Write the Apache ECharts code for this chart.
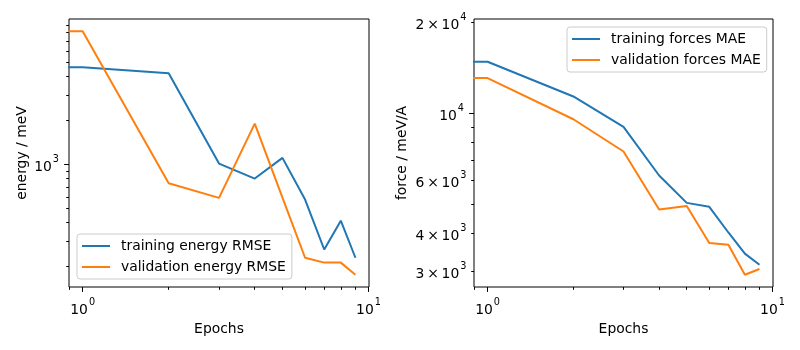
<!DOCTYPE html>
<html>
<head>
<meta charset="utf-8">
<script src="https://cdn.jsdelivr.net/npm/echarts@6/dist/echarts.min.js"></script>
<style>
  html, body { margin: 0; padding: 0; background: #fff; }
  #chart { width: 800px; height: 350px; }
</style>
</head>
<body>
<div id="chart"></div>
<script>
  // data
  const epochs = [0, 1, 2, 3, 4, 5, 6, 7, 8, 9];
  const trainEnergy = [5000, 4640, 4220, 1016, 802, 1111, 576, 262, 413, 230];
  const validEnergy = [7800, 8190, 745, 591, 1909, 594, 230, 213, 213, 176];
  const trainForces = [18700, 14800, 11360, 9010, 6220, 5050, 4900, 4030, 3430, 3150];
  const validForces = [16000, 13070, 9550, 7470, 4800, 4930, 3720, 3670, 2920, 3050];

  // tick positions
  const xMajor = [1, 10];
  const xMinor = [0.9, 2, 3, 4, 5, 6, 7, 8, 9];
  const energyMajor = [1000];
  const energyMinor = [200, 300, 400, 500, 600, 700, 800, 900, 2000, 3000, 4000, 5000, 6000, 7000, 8000, 9000];
  const forceMajor = [10000];
  const forceMinor = [3000, 4000, 5000, 6000, 7000, 8000, 9000, 20000];
  const forceMinorLabels = [3000, 4000, 6000, 20000];

  const blue = '#1f77b4';
  const orange = '#ff7f0e';
  const font = 'DejaVu Sans';
  const fs = 13.9;

  // log scale like matplotlib: epoch 0 is clipped to a tiny positive value
  function pts(ys) {
    return epochs.map((e, i) => [e > 0 ? e : 1e-300, ys[i]]);
  }

  function sciLabel(v) {
    const e = Math.floor(Math.log10(v) + 1e-9);
    const m = Math.round(v / Math.pow(10, e));
    const head = m === 1 ? '10' : m + '\u2009\u00d7\u200910';
    return '{b|' + head + '}{s|' + e + '}';
  }

  const rich = {
    b: { fontFamily: font, fontSize: fs, color: '#000', lineHeight: 20, verticalAlign: 'bottom' },
    s: { fontFamily: font, fontSize: 9.7, color: '#000', lineHeight: 20, verticalAlign: 'top', padding: [0, 0, 0, 1] }
  };

  function axis(grid, min, max, ticks, labels, len, margin, extra) {
    return Object.assign({
      type: 'log',
      logBase: 10,
      gridIndex: grid,
      min: min,
      max: max,
      axisLine: { show: false },
      splitLine: { show: false },
      axisTick: { show: true, customValues: ticks, length: len, lineStyle: { color: '#000', width: 1 } },
      axisLabel: labels
        ? { show: true, customValues: labels, margin: margin, formatter: sciLabel, rich: rich }
        : { show: false }
    }, extra || {});
  }

  const nameStyle = { fontFamily: font, fontSize: fs, color: '#000' };
  const xName = { name: 'Epochs', nameLocation: 'middle', nameGap: 32, nameTextStyle: nameStyle };

  let myChart = echarts.init(document.getElementById('chart'), null, { renderer: 'canvas' });

  myChart.setOption({
    animation: false,
    backgroundColor: '#fff',
    textStyle: { fontFamily: font },
    grid: [
      { left: 69, top: 19, width: 300, height: 268, show: true, borderColor: '#000', borderWidth: 1, backgroundColor: 'transparent' },
      { left: 474, top: 19, width: 299, height: 268, show: true, borderColor: '#000', borderWidth: 1, backgroundColor: 'transparent' }
    ],
    xAxis: [
      axis(0, 0.896, 10.04, xMajor, xMajor, 4.9, 10, Object.assign({ position: 'bottom' }, xName)),
      axis(0, 0.896, 10.04, xMinor, null, 2.8, 8, { position: 'bottom' }),
      axis(1, 0.896, 10.04, xMajor, xMajor, 4.9, 10, Object.assign({ position: 'bottom' }, xName)),
      axis(1, 0.896, 10.04, xMinor, null, 2.8, 8, { position: 'bottom' })
    ],
    yAxis: [
      axis(0, 145, 9930, energyMajor, energyMajor, 4.9, 10, {
        position: 'left', name: 'energy / meV', nameLocation: 'middle', nameGap: 40, nameTextStyle: nameStyle
      }),
      axis(0, 145, 9930, energyMinor, null, 2.8, 8, { position: 'left' }),
      axis(1, 2660, 20500, forceMajor, forceMajor, 4.9, 10, {
        position: 'left', name: 'force / meV/A', nameLocation: 'middle', nameGap: 65, nameTextStyle: nameStyle
      }),
      axis(1, 2660, 20500, forceMinor, forceMinorLabels, 2.8, 7.6, { position: 'left' })
    ],
    legend: [
      {
        left: 77, top: 234, orient: 'vertical',
        data: ['training energy RMSE', 'validation energy RMSE'],
        icon: 'rect', itemWidth: 28, itemHeight: 2, itemGap: 7,
        padding: [5, 6, 5, 5],
        backgroundColor: 'rgba(255,255,255,0.8)', borderColor: '#cccccc', borderWidth: 1, borderRadius: 3,
        textStyle: { fontFamily: font, fontSize: fs, color: '#000', lineHeight: 14, padding: [0, 0, 0, 6] }
      },
      {
        left: 567, top: 27, orient: 'vertical',
        data: ['training forces MAE', 'validation forces MAE'],
        icon: 'rect', itemWidth: 28, itemHeight: 2, itemGap: 7,
        padding: [5, 6, 5, 5],
        backgroundColor: 'rgba(255,255,255,0.8)', borderColor: '#cccccc', borderWidth: 1, borderRadius: 3,
        textStyle: { fontFamily: font, fontSize: fs, color: '#000', lineHeight: 14, padding: [0, 0, 0, 6] }
      }
    ],
    series: [
      { name: 'training energy RMSE', type: 'line', xAxisIndex: 0, yAxisIndex: 0, data: pts(trainEnergy),
        showSymbol: false, symbol: 'none', color: blue, lineStyle: { width: 2, color: blue } },
      { name: 'validation energy RMSE', type: 'line', xAxisIndex: 0, yAxisIndex: 0, data: pts(validEnergy),
        showSymbol: false, symbol: 'none', color: orange, lineStyle: { width: 2, color: orange } },
      { name: 'training forces MAE', type: 'line', xAxisIndex: 2, yAxisIndex: 2, data: pts(trainForces),
        showSymbol: false, symbol: 'none', color: blue, lineStyle: { width: 2, color: blue } },
      { name: 'validation forces MAE', type: 'line', xAxisIndex: 2, yAxisIndex: 2, data: pts(validForces),
        showSymbol: false, symbol: 'none', color: orange, lineStyle: { width: 2, color: orange } }
    ]
  });
</script>
</body>
</html>
